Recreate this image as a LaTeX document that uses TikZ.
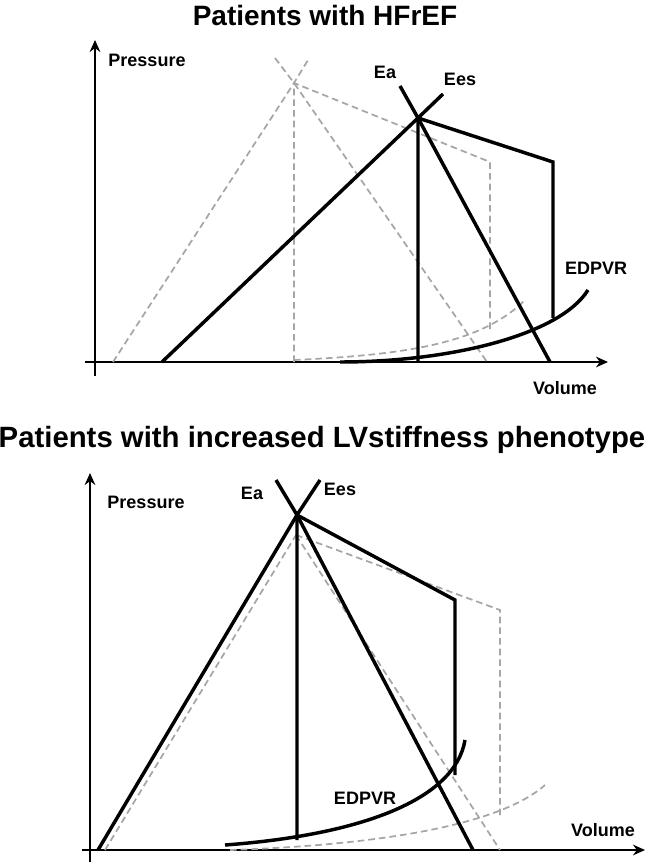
\documentclass[tikz,border=0pt]{standalone}
\usepackage{fontspec}
\setmainfont{Liberation Sans}
\usetikzlibrary{arrows.meta}
\begin{document}
\begin{tikzpicture}[x=0.75pt,y=-0.75pt,
  blk/.style={line width=2.6pt,black},
  gry/.style={line width=1.3pt,gray!70,dashed,dash pattern=on 5pt off 3pt},
  ax/.style={line width=1.4pt,-{Stealth[length=9pt,width=8pt]}},
  ttl/.style={font=\bfseries\fontsize{21}{24}\selectfont,inner sep=0pt},
  lbl/.style={font=\bfseries\fontsize{13.5}{15}\selectfont,inner sep=0pt}]
\useasboundingbox (0,0) rectangle (645,862);
% ---------- top panel ----------
\node[ttl] (t1) at (325,15) {Patients with HFrEF};
\coordinate (ya0) at (95,376); \coordinate (ya1) at (95,40);
\coordinate (xa0) at (85,362); \coordinate (xa1) at (608,362);
\draw[ax] (ya0) -- (ya1);
\draw[ax] (xa0) -- (xa1);
\node[lbl] (p1) at (147,60) {Pressure};
\node[lbl] (v1) at (565,388) {Volume};
% gray dashed
\coordinate (gA) at (294,83);
\draw[gry] (113,362) -- (gA) -- (308,60);
\draw[gry] (275,58) -- (gA) -- (487,362);
\draw[gry] (294,362) -- (gA) -- (490,162) -- (490,330);
\draw[gry] (294,360) .. controls (400,355) and (480,345) .. (525,300);
% black
\coordinate (bA) at (418,118);
\draw[blk] (162,362) -- (bA) -- (443,94);
\draw[blk] (400,86) -- (bA) -- (550,362);
\draw[blk] (418,362) -- (bA) -- (553,162) -- (553,318);
\draw[blk] (340,362) .. controls (450,362) and (560,335) .. (588,290);
\node[lbl] (ea1) at (385,72) {Ea};
\node[lbl] (ees1) at (460,79) {Ees};
\node[lbl] (ed1) at (596,268) {EDPVR};
% ---------- bottom panel ----------
\node[ttl,font=\bfseries\fontsize{22}{24}\selectfont] (t2) at (322,440) {Patients with increased LVstiffness phenotype};
\coordinate (yb0) at (90,862); \coordinate (yb1) at (90,473);
\coordinate (xb0) at (82,850); \coordinate (xb1) at (645,850);
\draw[ax] (yb0) -- (yb1);
\draw[ax] (xb0) -- (xb1);
\node[lbl] (p2) at (146,502) {Pressure};
\node[lbl] (v2) at (603,830) {Volume};
% gray
\coordinate (gB) at (296,535);
\draw[gry] (105,850) -- (gB);
\draw[gry] (gB) -- (500,850);
\draw[gry] (gB) -- (500,610) -- (500,815);
\draw[gry] (230,850) .. controls (380,845) and (500,825) .. (545,785);
% black
\coordinate (bB) at (297,515);
\draw[blk] (98,850) -- (bB) -- (320,480);
\draw[blk] (276,480) -- (bB) -- (473,850);
\draw[blk] (297,840) -- (bB) -- (455,600) -- (455,775);
\draw[blk] (225,845) .. controls (360,835) and (455,800) .. (465,740);
\node[lbl] (ea2) at (252,493) {Ea};
\node[lbl] (ees2) at (340,489) {Ees};
\node[lbl] (ed2) at (365,798) {EDPVR};
\end{tikzpicture}
\end{document}
